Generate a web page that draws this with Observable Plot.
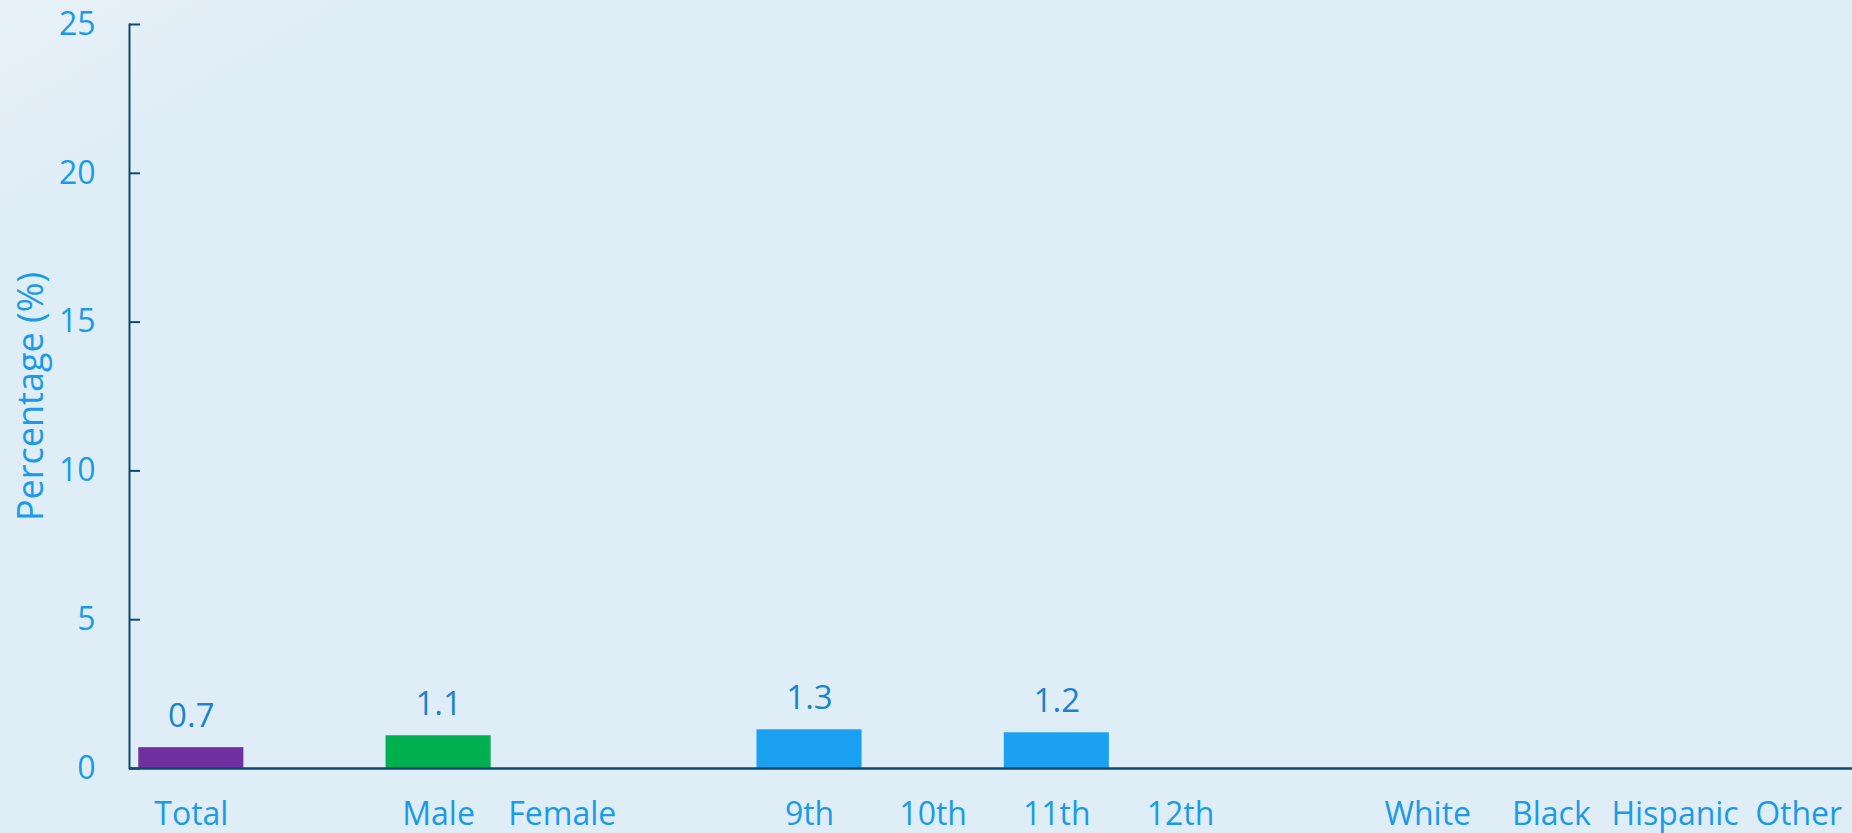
<!DOCTYPE html>
<html><head><meta charset="utf-8">
<script src="https://cdn.jsdelivr.net/npm/d3@7"></script>
<script src="https://cdn.jsdelivr.net/npm/@observablehq/plot@0.6"></script>
<style>
html,body{margin:0;padding:0;overflow:hidden;}
body{background:linear-gradient(150deg,#e8f1f8 0%,#dfedf7 12%,#dfedf7 100%);width:1852px;height:833px;}
#chart{width:1852px;height:833px;overflow:hidden;}
#chart svg{max-width:none !important;}
</style></head><body><div id="chart"></div>
<script>
// Data
const categories = ["Total","Male","Female","9th","10th","11th","12th","White","Black","Hispanic","Other"];
const groups = ["Total","Sex","Sex","Grade","Grade","Grade","Grade","Race","Race","Race","Race"];
const values = [0.7, 1.1, null, 1.3, null, 1.2, null, null, null, null, null];
const yTicks = [0, 5, 10, 15, 20, 25];
const yLabel = "Percentage (%)";
const groupNames = ["Total","Sex","Grade","Race"];
const groupColors = ["#7030a0","#00b050","#1ba1f2","#f08c00"];

const data = categories.map((c,i)=>({category:c, group:groups[i], value:values[i]}));
const bars = data.filter(d=>d.value!=null);
// x domain with an empty slot between groups
const domain = [];
groups.forEach((g,i)=>{ if(i>0 && g!==groups[i-1]) domain.push("gap"+i); domain.push(categories[i]); });

const axisColor = "#0d4a6e";
const labelColor = "#1b9be6";

const chart = Plot.plot({
  width: 1860, height: 833,
  marginTop: 24, marginBottom: 65, marginLeft: 129, marginRight: 0,
  style: {background:"transparent", fontFamily:"'Open Sans', sans-serif", fontSize:"32px", color:labelColor, overflow:"hidden", maxWidth:"none"},
  x: {domain, paddingInner: 0.15, paddingOuter: 0.075, round: false, axis: null},
  y: {domain: [0, 25], axis: null},
  color: {domain: groupNames, range: groupColors},
  marks: [
    Plot.barY(bars, {x:"category", y:"value", fill:"group", inset:0}),
    Plot.text(bars, {x:"category", y:"value", text:d=>d.value.toFixed(1), dy:-21, lineAnchor:"bottom", fill:"#1a84cf", fontSize:33}),
    Plot.axisX({ticks: categories, tickSize: 0, tickPadding: 34, fill: labelColor, fontSize: 32, label: null}),
    Plot.axisY({ticks: yTicks, tickSize: -11, tickPadding: 45, stroke: axisColor, strokeWidth: 2, fill: labelColor, fontSize: 32, label: null}),
    Plot.text([yLabel], {frameAnchor: "left", text: d=>d, rotate: -90, dx: -87, lineAnchor: "bottom", textAnchor: "middle", fill: labelColor, fontSize: 36}),
    Plot.frame({anchor: "left", stroke: axisColor, strokeWidth: 2}),
    Plot.ruleY([0], {stroke: axisColor, strokeWidth: 2.5})
  ]
});
document.getElementById("chart").appendChild(chart);
</script>
</body></html>
